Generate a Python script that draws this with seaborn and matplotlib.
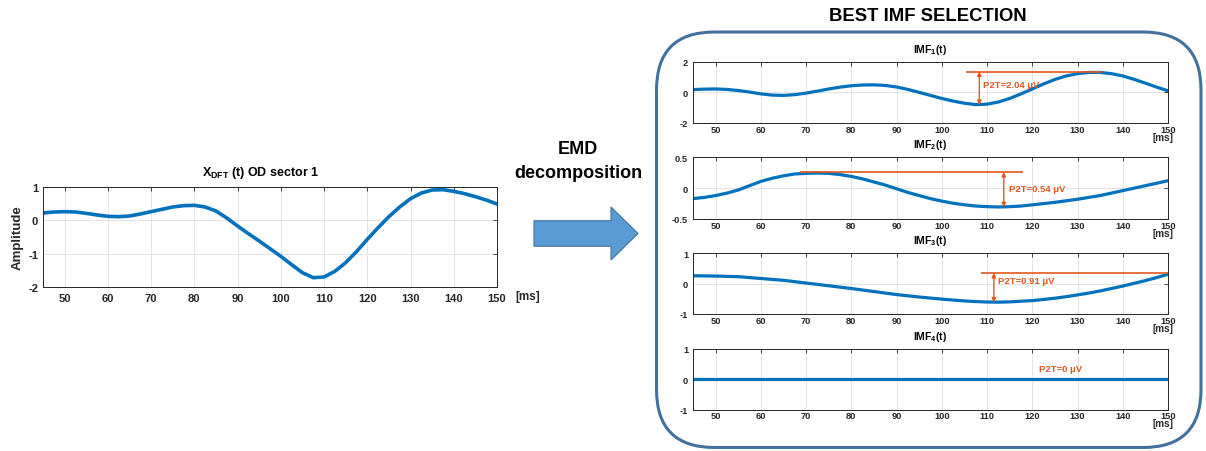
import matplotlib
matplotlib.use("Agg")
import matplotlib.pyplot as plt
import seaborn as sns
from matplotlib.patches import FancyBboxPatch, FancyArrow

# ---------------- data ----------------
t = [45, 47.5, 50, 52.5, 55, 57.5, 60, 62.5, 65, 67.5, 70, 72.5, 75, 77.5, 80,
     82.5, 85, 87.5, 90, 92.5, 95, 97.5, 100, 102.5, 105, 107.5, 110, 112.5,
     115, 117.5, 120, 122.5, 125, 127.5, 130, 132.5, 135, 137.5, 140, 142.5,
     145, 147.5, 150]

x_dft = [0.22, 0.25, 0.26, 0.25, 0.21, 0.16, 0.12, 0.11, 0.13, 0.19, 0.26, 0.33,
         0.40, 0.44, 0.45, 0.40, 0.28, 0.07, -0.17, -0.40, -0.62, -0.85, -1.08,
         -1.33, -1.57, -1.72, -1.70, -1.53, -1.27, -0.94, -0.57, -0.22, 0.11,
         0.40, 0.65, 0.82, 0.91, 0.92, 0.87, 0.80, 0.71, 0.61, 0.49]

imf1 = [0.18, 0.21, 0.22, 0.19, 0.12, 0.02, -0.10, -0.18, -0.20, -0.15, -0.05,
        0.08, 0.22, 0.34, 0.43, 0.48, 0.49, 0.45, 0.35, 0.19, 0.00, -0.20, -0.40,
        -0.57, -0.71, -0.80, -0.77, -0.63, -0.40, -0.10, 0.22, 0.55, 0.84, 1.07,
        1.22, 1.30, 1.30, 1.22, 1.07, 0.85, 0.60, 0.34, 0.10]

imf2 = [-0.17, -0.15, -0.12, -0.08, -0.03, 0.04, 0.11, 0.16, 0.20, 0.23, 0.24,
        0.245, 0.24, 0.22, 0.19, 0.15, 0.10, 0.05, -0.01, -0.07, -0.12, -0.17,
        -0.21, -0.245, -0.27, -0.29, -0.30, -0.305, -0.30, -0.29, -0.27, -0.25,
        -0.23, -0.205, -0.18, -0.15, -0.12, -0.08, -0.04, 0.00, 0.04, 0.08, 0.12]

imf3 = [0.26, 0.255, 0.25, 0.24, 0.23, 0.20, 0.17, 0.14, 0.11, 0.065, 0.02,
        -0.025, -0.07, -0.115, -0.16, -0.21, -0.26, -0.31, -0.36, -0.40, -0.44,
        -0.475, -0.51, -0.54, -0.57, -0.59, -0.605, -0.61, -0.60, -0.58, -0.56,
        -0.52, -0.48, -0.43, -0.37, -0.31, -0.24, -0.16, -0.08, 0.01, 0.10, 0.20,
        0.31]

t_flat = [45, 150]
imf4 = [0.0, 0.0]

x_ticks = [50, 60, 70, 80, 90, 100, 110, 120, 130, 140, 150]
x_ticklabels = [str(v) for v in x_ticks]

left_yticks = [-2, -1, 0, 1]
left_yticklabels = ["-2", "-1", "0", "1"]

panel_titles = [r"IMF$_{1}$(t)", r"IMF$_{2}$(t)", r"IMF$_{3}$(t)", r"IMF$_{4}$(t)"]
panel_ylims = [(-2, 2), (-0.5, 0.5), (-1, 1), (-1, 1)]
panel_yticks = [[-2, 0, 2], [-0.5, 0, 0.5], [-1, 0, 1], [-1, 0, 1]]
panel_yticklabels = [["-2", "0", "2"], ["-0.5", "0", "0.5"], ["-1", "0", "1"], ["-1", "0", "1"]]

p2t_labels = ["P2T=2.04 μV", "P2T=0.54 μV", "P2T=0.91 μV", "P2T=0 μV"]
# peak line level, line start/end (ms), arrow position (ms), trough level
p2t_peak = [1.36, 0.26, 0.35, None]
p2t_line_start = [105.3, 68.7, 108.6, None]
p2t_line_end = [135.4, 118.0, 150.0, None]
p2t_arrow_t = [108.3, 113.7, 111.5, None]
p2t_trough = [-0.82, -0.31, -0.62, None]
p2t_text_pos = [(109.2, 0.50), (114.8, 0.0), (112.4, 0.09), (121.4, 0.36)]

# ---------------- style ----------------
sns.set_style("whitegrid")
plt.rcParams["font.family"] = ["Liberation Sans", "DejaVu Sans"]
plt.rcParams["font.weight"] = "bold"
plt.rcParams["axes.unicode_minus"] = False
plt.rcParams["mathtext.fontset"] = "custom"
plt.rcParams["mathtext.rm"] = "Liberation Sans:bold"
plt.rcParams["mathtext.bf"] = "Liberation Sans:bold"
plt.rcParams["mathtext.it"] = "Liberation Sans:bold"
plt.rcParams["mathtext.default"] = "rm"

BLUE = "#0072BD"
ORANGE = "#E2581E"
DARK = "#262626"
GRID = "#e4e4e4"
BOX = "#41719C"
ARROW_FILL = "#5B9BD5"

W, H = 1206, 452
fig = plt.figure(figsize=(W / 100, H / 100), dpi=100)


def px_rect(x0, y_top, x1, y_bot):
    return [x0 / W, 1 - y_bot / H, (x1 - x0) / W, (y_bot - y_top) / H]


def style_axes(ax, ylim, yticks, yticklabels, fs, xpad, ypad):
    ax.set_xlim(45, 150)
    ax.set_ylim(*ylim)
    ax.set_xticks(x_ticks)
    ax.set_xticklabels(x_ticklabels)
    ax.set_yticks(yticks)
    ax.set_yticklabels(yticklabels)
    ax.set_xlabel("")
    ax.set_ylabel("")
    ax.grid(True, color=GRID, lw=0.7)
    ax.set_axisbelow(True)
    for s in ax.spines.values():
        s.set_visible(True)
        s.set_color(DARK)
        s.set_linewidth(0.7)
    ax.tick_params(direction="in", length=3, width=0.6, top=True, right=True,
                   color=DARK, labelcolor=DARK, labelsize=fs)
    ax.tick_params(axis="x", pad=xpad)
    ax.tick_params(axis="y", pad=ypad)
    for lab in ax.get_xticklabels() + ax.get_yticklabels():
        lab.set_fontweight("bold")


# ---------------- left chart ----------------
axL = fig.add_axes(px_rect(43, 188, 497, 288))
sns.lineplot(x=t, y=x_dft, ax=axL, color=BLUE, lw=2.6)
style_axes(axL, (-2, 1), left_yticks, left_yticklabels, 8, 4.2, 3.5)
fig.text(261 / W, 1 - 173 / H, r"X$_{DFT}$ (t) OD sector 1", ha="center",
         va="center", fontsize=9, fontweight="bold", color="black")
fig.text(18 / W, 1 - 238 / H, "Amplitude", rotation=90, ha="center",
         va="center", fontsize=9.5, fontweight="bold", color=DARK)
fig.text(528 / W, 1 - 297 / H, "[ms]", ha="center", va="center",
         fontsize=8.5, fontweight="bold", color=DARK)

# ---------------- EMD text + block arrow ----------------
fig.text(578 / W, 1 - 150 / H, "EMD", ha="center", va="center",
         fontsize=13, fontweight="bold", color="black")
fig.text(578 / W, 1 - 174 / H, "decomposition", ha="center", va="center",
         fontsize=13, fontweight="bold", color="black")
arrow = FancyArrow(5.34, (H - 234.5) / 100, 1.04, 0, width=0.255,
                   head_width=0.53, head_length=0.27, length_includes_head=True,
                   facecolor=ARROW_FILL, edgecolor=BOX, lw=0.8,
                   transform=fig.dpi_scale_trans)
fig.patches.append(arrow)

# ---------------- rounded selection box ----------------
box = FancyBboxPatch((6.565, 0.035), 12.01 - 6.565, (H - 33) / 100 - 0.035,
                     boxstyle="round,pad=0,rounding_size=0.58",
                     facecolor="none", edgecolor=BOX, lw=2.2,
                     transform=fig.dpi_scale_trans)
fig.patches.append(box)
fig.text(928 / W, 1 - 16.5 / H, "BEST IMF SELECTION", ha="center",
         va="center", fontsize=13.3, fontweight="bold", color="black")

# ---------------- IMF panels ----------------
panel_px = [(62.7, 124), (158.3, 220), (254.3, 315), (350, 410.5)]
series = [(t, imf1), (t, imf2), (t, imf3), (t_flat, imf4)]

for i, ((ytop, ybot), (xs, ys)) in enumerate(zip(panel_px, series)):
    ax = fig.add_axes(px_rect(693, ytop, 1168, ybot))
    sns.lineplot(x=xs, y=ys, ax=ax, color=BLUE, lw=2.3)
    style_axes(ax, panel_ylims[i], panel_yticks[i], panel_yticklabels[i],
               6.7, 1.3, 3.5)
    ax.annotate(panel_titles[i], xy=(0.5, 1), xycoords="axes fraction",
                xytext=(0, 9.3), textcoords="offset points", ha="center",
                va="center", fontsize=7.5, fontweight="bold", color="black")
    ax.annotate("[ms]", xy=(1, 0), xycoords="axes fraction",
                xytext=(-3.6, -10), textcoords="offset points", ha="center",
                va="center", fontsize=7.2, fontweight="bold", color=DARK)
    if p2t_peak[i] is not None:
        ax.hlines(p2t_peak[i], p2t_line_start[i], p2t_line_end[i],
                  color=ORANGE, lw=1.2, zorder=4)
        ax.annotate("", xy=(p2t_arrow_t[i], p2t_trough[i]),
                    xytext=(p2t_arrow_t[i], p2t_peak[i]),
                    arrowprops=dict(arrowstyle="<|-|>", color=ORANGE, lw=1.0,
                                    mutation_scale=6, shrinkA=0, shrinkB=0),
                    zorder=4)
    tx, ty = p2t_text_pos[i]
    ax.text(tx, ty, p2t_labels[i], ha="left", va="center", fontsize=6.8,
            fontweight="bold", color=ORANGE, zorder=5)

fig.savefig("out.png", dpi=100)
